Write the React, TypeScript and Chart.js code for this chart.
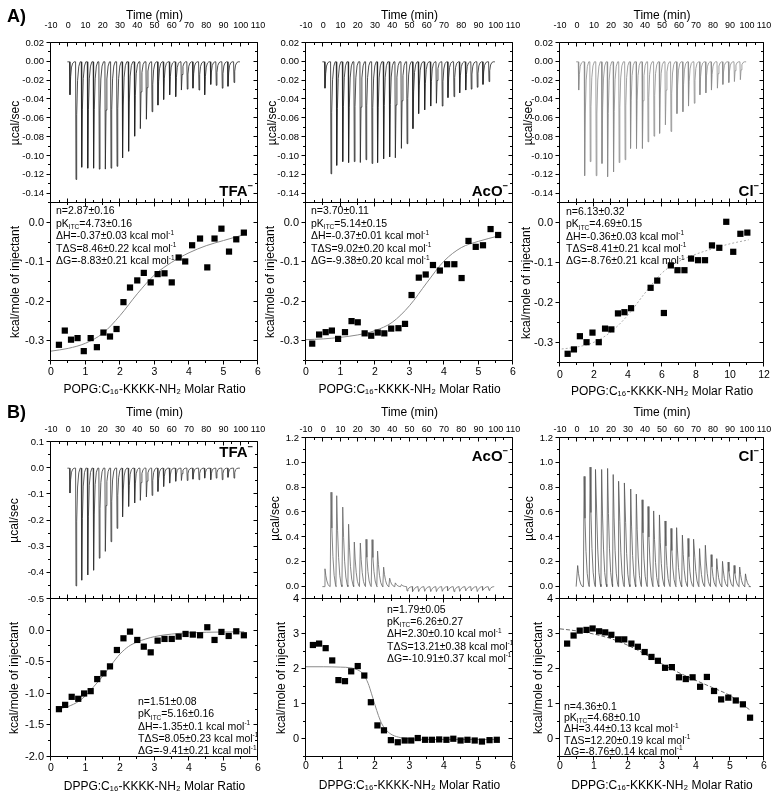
import React, { useEffect, useRef } from "react";
import { Chart, registerables } from "chart.js";

Chart.register(...registerables);

const FONT = "'Liberation Sans', Arial, Helvetica, sans-serif";
Chart.defaults.font.family = FONT;
Chart.defaults.color = "#000";

// ---------------- data ----------------
const TIME_TICKS = [-10, 0, 10, 20, 30, 40, 50, 60, 70, 80, 90, 100, 110];
const RATIO_TICKS_6 = [0, 1, 2, 3, 4, 5, 6];
const RATIO_TICKS_12 = [0, 2, 4, 6, 8, 10, 12];
const RAW_TICKS_A = [0.02, 0, -0.02, -0.04, -0.06, -0.08, -0.1, -0.12, -0.14];
const ISO_TICKS_A = [0, -0.1, -0.2, -0.3];
const RAW_TICKS_B_TFA = [0.1, 0, -0.1, -0.2, -0.3, -0.4, -0.5];
const ISO_TICKS_B_TFA = [0, -0.5, -1, -1.5, -2];
const RAW_TICKS_B = [1.2, 1.0, 0.8, 0.6, 0.4, 0.2, 0];
const ISO_TICKS_B = [4, 3, 2, 1, 0];

// injection times (min)
const INJECTION_MIN = [1.0, 4.5, 7.8, 11.3, 14.7, 18.0, 21.5, 24.8, 28.3, 31.5, 35.0, 38.5, 41.8, 45.3, 48.6, 52.0, 55.3, 58.8, 62.3, 65.6, 69.0, 72.3, 75.8, 79.1, 82.6, 85.8, 89.3, 92.6, 96.1];
const INJECTION_MIN_B_CL = [0.4, 4.2, 7.7, 11.1, 14.5, 18.0, 21.3, 24.7, 28.1, 31.6, 34.9, 38.3, 41.8, 45.1, 48.5, 51.8, 55.3, 58.6, 62.0, 65.3, 68.8, 72.1, 75.5, 78.9, 82.2, 85.6, 88.9, 92.4, 95.7, 99.1];

// peak heat-rate (µcal/sec) of each injection
const PEAK_A_TFA = [-0.035, -0.125, -0.112, -0.113, -0.113, -0.114, -0.114, -0.113, -0.111, -0.102, -0.095, -0.079, -0.071, -0.061, -0.053, -0.046, -0.040, -0.035, -0.037, -0.030, -0.029, -0.028, -0.030, -0.035, -0.024, -0.025, -0.028, -0.026, -0.022];
const PEAK_A_ACO = [-0.028, -0.119, -0.110, -0.106, -0.107, -0.106, -0.107, -0.104, -0.108, -0.107, -0.103, -0.101, -0.102, -0.092, -0.087, -0.071, -0.055, -0.051, -0.047, -0.044, -0.047, -0.038, -0.037, -0.033, -0.030, -0.029, -0.027, -0.024, -0.021];
const PEAK_A_CL = [-0.030, -0.121, -0.106, -0.121, -0.108, -0.122, -0.117, -0.107, -0.104, -0.092, -0.092, -0.092, -0.085, -0.079, -0.076, -0.067, -0.074, -0.055, -0.053, -0.047, -0.044, -0.035, -0.033, -0.030, -0.028, -0.024, -0.022, -0.021, -0.019];
const PEAK_B_TFA = [-0.095, -0.450, -0.428, -0.408, -0.390, -0.344, -0.318, -0.281, -0.230, -0.186, -0.146, -0.133, -0.123, -0.110, -0.104, -0.089, -0.070, -0.057, -0.050, -0.047, -0.047, -0.042, -0.044, -0.038, -0.044, -0.038, -0.044, -0.035, -0.038];
const PEAK_B_ACO = [0.144, 0.762, 0.734, 0.642, 0.504, 0.360, 0.352, 0.382, 0.379, 0.287, 0.157, 0.068, 0.030, 0.016, -0.035, -0.040, -0.040, -0.038, -0.040, -0.040, -0.038, -0.035, -0.040, -0.038, -0.035, -0.035, -0.040, -0.030, -0.030];
const PEAK_B_CL = [0.17, 0.89, 0.965, 0.946, 0.946, 0.954, 0.905, 0.851, 0.837, 0.788, 0.747, 0.701, 0.647, 0.611, 0.579, 0.53, 0.47, 0.476, 0.416, 0.389, 0.383, 0.307, 0.334, 0.258, 0.226, 0.204, 0.198, 0.171, 0.158, 0.103];

// integrated heats (kcal/mole of injectant) vs molar ratio
const RATIO_A_TFA = [0.23, 0.40, 0.58, 0.77, 0.95, 1.15, 1.33, 1.52, 1.71, 1.90, 2.10, 2.29, 2.50, 2.69, 2.89, 3.09, 3.29, 3.50, 3.70, 3.89, 4.09, 4.32, 4.53, 4.74, 4.94, 5.16, 5.37, 5.59];
const HEAT_A_TFA = [-0.309, -0.273, -0.296, -0.292, -0.325, -0.292, -0.315, -0.278, -0.288, -0.269, -0.201, -0.164, -0.146, -0.127, -0.151, -0.130, -0.128, -0.151, -0.088, -0.098, -0.057, -0.040, -0.113, -0.040, -0.015, -0.073, -0.042, -0.025];
const RATIO_A_ACO = [0.18, 0.38, 0.57, 0.75, 0.93, 1.13, 1.32, 1.50, 1.70, 1.89, 2.08, 2.27, 2.47, 2.68, 2.87, 3.06, 3.27, 3.47, 3.68, 3.88, 4.09, 4.30, 4.51, 4.71, 4.92, 5.13, 5.35, 5.57];
const HEAT_A_ACO = [-0.306, -0.283, -0.277, -0.273, -0.294, -0.277, -0.249, -0.252, -0.280, -0.286, -0.278, -0.280, -0.268, -0.267, -0.256, -0.183, -0.139, -0.131, -0.107, -0.121, -0.105, -0.105, -0.140, -0.046, -0.061, -0.057, -0.016, -0.031];
const RATIO_A_CL = [0.45, 0.82, 1.17, 1.56, 1.91, 2.28, 2.65, 3.02, 3.41, 3.79, 4.18, 5.33, 5.72, 6.11, 6.52, 6.91, 7.32, 7.71, 8.12, 8.53, 8.94, 9.37, 9.78, 10.19, 10.61, 11.02];
const HEAT_A_CL = [-0.327, -0.316, -0.283, -0.298, -0.274, -0.298, -0.264, -0.266, -0.226, -0.223, -0.213, -0.162, -0.144, -0.225, -0.106, -0.118, -0.118, -0.089, -0.093, -0.093, -0.056, -0.062, 0.003, -0.072, -0.027, -0.024];
const RATIO_B_TFA = [0.23, 0.41, 0.60, 0.79, 0.96, 1.15, 1.34, 1.52, 1.71, 1.91, 2.10, 2.29, 2.50, 2.69, 2.89, 3.09, 3.29, 3.50, 3.70, 3.90, 4.11, 4.32, 4.53, 4.74, 4.94, 5.15, 5.37, 5.59];
const HEAT_B_TFA = [-1.243, -1.175, -1.048, -1.079, -0.995, -0.958, -0.767, -0.677, -0.566, -0.307, -0.122, -0.016, -0.148, -0.254, -0.344, -0.159, -0.132, -0.132, -0.095, -0.053, -0.063, -0.074, 0.053, -0.148, -0.021, -0.085, -0.011, -0.074];
const RATIO_B_ACO = [0.20, 0.38, 0.57, 0.76, 0.94, 1.13, 1.31, 1.50, 1.69, 1.88, 2.07, 2.26, 2.46, 2.66, 2.86, 3.05, 3.24, 3.45, 3.65, 3.86, 4.07, 4.27, 4.48, 4.68, 4.89, 5.10, 5.32, 5.53];
const HEAT_B_ACO = [2.69, 2.73, 2.60, 2.25, 1.69, 1.66, 1.94, 2.09, 1.82, 1.06, 0.40, 0.26, -0.02, -0.08, -0.03, -0.03, 0.04, -0.01, -0.01, 0.00, -0.01, 0.02, -0.03, -0.01, -0.03, -0.06, -0.02, -0.01];
const RATIO_B_CL = [0.21, 0.40, 0.58, 0.78, 0.96, 1.15, 1.33, 1.51, 1.71, 1.89, 2.10, 2.29, 2.49, 2.69, 2.88, 3.09, 3.29, 3.50, 3.70, 3.90, 4.12, 4.32, 4.53, 4.74, 4.95, 5.17, 5.38, 5.59];
const HEAT_B_CL = [2.73, 2.96, 3.10, 3.12, 3.16, 3.08, 3.05, 2.98, 2.85, 2.85, 2.73, 2.64, 2.49, 2.35, 2.24, 2.04, 2.06, 1.77, 1.72, 1.77, 1.50, 1.78, 1.38, 1.14, 1.19, 1.11, 1.00, 0.62];

// fitted binding curves
const FIT_X_A_TFA = [0, 0.5, 1, 1.5, 2, 2.5, 3, 3.5, 4, 4.5, 5, 5.6];
const FIT_Y_A_TFA = [-0.325, -0.318, -0.305, -0.28, -0.235, -0.18, -0.132, -0.1, -0.076, -0.058, -0.045, -0.03];
const FIT_X_A_ACO = [0, 0.5, 1, 1.5, 2, 2.5, 3, 3.5, 4, 4.5, 5, 5.6];
const FIT_Y_A_ACO = [-0.296, -0.294, -0.29, -0.284, -0.273, -0.252, -0.21, -0.152, -0.097, -0.063, -0.047, -0.033];
const FIT_X_A_CL = [0.1, 1, 2, 3, 4, 5, 6, 7, 8, 9, 10, 11.1];
const FIT_Y_A_CL = [-0.315, -0.31, -0.298, -0.272, -0.23, -0.175, -0.125, -0.096, -0.078, -0.064, -0.052, -0.042];
const FIT_X_B_TFA = [0.2, 0.5, 0.8, 1.0, 1.25, 1.5, 1.75, 2.0, 2.25, 2.5, 3, 3.5, 4, 5, 5.6];
const FIT_Y_B_TFA = [-1.24, -1.2, -1.12, -1.03, -0.88, -0.72, -0.54, -0.37, -0.25, -0.18, -0.095, -0.055, -0.035, -0.022, -0.018];
const FIT_X_B_ACO = [0, 0.5, 1, 1.3, 1.5, 1.65, 1.8, 1.9, 2.0, 2.1, 2.2, 2.35, 2.5, 2.75, 3, 3.5, 5.6];
const FIT_Y_B_ACO = [2.07, 2.07, 2.06, 2.04, 1.98, 1.87, 1.6, 1.3, 0.98, 0.68, 0.44, 0.24, 0.13, 0.05, 0.02, 0.0, 0.0];
const FIT_X_B_CL = [0, 0.5, 1, 1.5, 2, 2.5, 3, 3.5, 4, 4.5, 5, 5.6];
const FIT_Y_B_CL = [3.15, 3.09, 3.0, 2.87, 2.68, 2.43, 2.15, 1.9, 1.68, 1.47, 1.25, 0.83];

// fit results text
const NOTE_A_TFA = ["n=2.87±0.16", "pK_{ITC}=4.73±0.16", "ΔH=-0.37±0.03 kcal mol^{-1}", "TΔS=8.46±0.22 kcal mol^{-1}", "ΔG=-8.83±0.21 kcal mol^{-1}"];
const NOTE_A_ACO = ["n=3.70±0.11", "pK_{ITC}=5.14±0.15", "ΔH=-0.37±0.01 kcal mol^{-1}", "TΔS=9.02±0.20 kcal mol^{-1}", "ΔG=-9.38±0.20 kcal mol^{-1}"];
const NOTE_A_CL = ["n=6.13±0.32", "pK_{ITC}=4.69±0.15", "ΔH=-0.36±0.03 kcal mol^{-1}", "TΔS=8.41±0.21 kcal mol^{-1}", "ΔG=-8.76±0.21 kcal mol^{-1}"];
const NOTE_B_TFA = ["n=1.51±0.08", "pK_{ITC}=5.16±0.16", "ΔH=-1.35±0.1 kcal mol^{-1}", "TΔS=8.05±0.23 kcal mol^{-1}", "ΔG=-9.41±0.21 kcal mol^{-1}"];
const NOTE_B_ACO = ["n=1.79±0.05", "pK_{ITC}=6.26±0.27", "ΔH=2.30±0.10 kcal mol^{-1}", "TΔS=13.21±0.38 kcal mol^{-1}", "ΔG=-10.91±0.37 kcal mol^{-1}"];
const NOTE_B_CL = ["n=4.36±0.1", "pK_{ITC}=4.68±0.10", "ΔH=3.44±0.13 kcal mol^{-1}", "TΔS=12.20±0.19 kcal mol^{-1}", "ΔG=-8.76±0.14 kcal mol^{-1}"];

const TITLE_TIME = "Time (min)";
const TITLE_RAW_Y = "µcal/sec";
const TITLE_ISO_Y = "kcal/mole of injectant";
const TITLE_POPG = "POPG:C₁₆-KKKK-NH₂ Molar Ratio";
const TITLE_DPPG = "DPPG:C₁₆-KKKK-NH₂ Molar Ratio";

// ---------------- helpers ----------------
// spike profile (fraction of peak vs minutes after the tip) – drawing style only
const SHAPE_SHARP = [[-0.25, 0], [0, 1], [0.4, 0.45], [0.9, 0.16], [1.6, 0.04], [2.4, 0]];
const SHAPE_BROAD = [[-0.45, 0], [0, 1], [0.5, 0.62], [1.1, 0.32], [1.8, 0.12], [2.6, 0.02], [3.0, 0]];

function spikeTrace(times: number[], peaks: number[], end: number, shape: number[][]) {
  const pts: { x: number; y: number }[] = [{ x: -0.5, y: 0 }];
  times.forEach((t, i) => {
    const p = peaks[i];
    shape.forEach(([dt, f]) => pts.push({ x: t + dt, y: p * f }));
  });
  pts.push({ x: end, y: 0 });
  return pts;
}
const zip = (xs: number[], ys: number[]) => xs.map((x, i) => ({ x, y: ys[i] }));

function rawSet(times: number[], peaks: number[], color: string, end = 99.5, shape = SHAPE_SHARP) {
  return {
    data: spikeTrace(times, peaks, end, shape),
    showLine: true,
    borderColor: color,
    borderWidth: 0.8,
    pointRadius: 0,
    tension: 0,
  };
}
function isoSets(xs: number[], ys: number[], fx: number[], fy: number[], fitColor: string, dash: number[] = []) {
  return [
    {
      data: zip(xs, ys),
      showLine: false,
      pointStyle: "rect",
      pointRadius: 4.4,
      backgroundColor: "#000",
      borderWidth: 0,
    },
    {
      data: zip(fx, fy),
      showLine: true,
      borderColor: fitColor,
      borderWidth: 1,
      borderDash: dash,
      pointRadius: 0,
      cubicInterpolationMode: "monotone",
    },
  ];
}

function drawRich(ctx: CanvasRenderingContext2D, str: string, x: number, y: number, size: number, bold: boolean, measureOnly = false) {
  const re = /([_^])\{([^}]*)\}/g;
  const parts: { t: string; k: string }[] = [];
  let last = 0;
  let m: RegExpExecArray | null;
  while ((m = re.exec(str))) {
    if (m.index > last) parts.push({ t: str.slice(last, m.index), k: "n" });
    parts.push({ t: m[2], k: m[1] === "_" ? "sub" : "sup" });
    last = re.lastIndex;
  }
  if (last < str.length) parts.push({ t: str.slice(last), k: "n" });
  let cx = x;
  for (const p of parts) {
    const s = p.k === "n" ? size : size * 0.62;
    const dy = p.k === "sub" ? size * 0.32 : p.k === "sup" ? -size * 0.36 : 0;
    ctx.font = `${bold ? "bold " : ""}${s}px ${FONT}`;
    if (!measureOnly) ctx.fillText(p.t, cx, y + dy);
    cx += ctx.measureText(p.t).width;
  }
  return cx - x;
}

function minorsOf(majors: number[], min: number, max: number) {
  const half = Math.abs(majors[1] - majors[0]) / 2;
  const eps = half * 1e-3;
  const out: number[] = [];
  majors.forEach((m) => {
    [m - half, m + half].forEach((v) => {
      if (v < min - eps || v > max + eps) return;
      if (majors.some((q) => Math.abs(q - v) < eps)) return;
      if (out.some((q) => Math.abs(q - v) < eps)) return;
      out.push(v);
    });
  });
  return out;
}

// ---------------- layout ----------------
const ML = 48;
const MR = 26;

type Spec = any;

function geom(s: Spec) {
  const mt = s.kind === "raw" ? s.t - (s.xTitleY - 12) : 20;
  const mb = s.kind === "raw" ? 20 : 40;
  return { mt, mb, x: s.l - ML, y: s.t - mt, w: s.r - s.l + ML + MR, h: s.b - s.t + mt + mb };
}

function buildChart(canvas: HTMLCanvasElement, s: Spec) {
  const g = geom(s);
  const xLH = s.xFont * 1.2;
  const tLH = 12 * 1.2;
  const xTickPad = s.kind === "raw" ? s.t - s.xLabelY - xLH / 2 : s.xLabelY - s.b - xLH / 2;
  const xTitlePad =
    s.kind === "raw"
      ? { top: s.xTitleY - (s.t - g.mt) - tLH / 2, bottom: 0 }
      : { top: 0, bottom: s.b + g.mb - s.xTitleY - tLH / 2 };
  const yTitlePad = { top: s.yTitleX - (s.l - ML) - tLH / 2, bottom: 0 };

  const deco = {
    id: "deco",
    afterDraw(chart: any) {
      const ctx: CanvasRenderingContext2D = chart.ctx;
      const xs = chart.scales.x;
      const ys = chart.scales.y;
      const ca = chart.chartArea;
      const L = Math.round(ca.left) - 0.5;
      const R = Math.round(ca.right) - 0.5;
      const T = Math.round(ca.top) - 0.5;
      const B = Math.round(ca.bottom) - 0.5;
      ctx.save();
      ctx.strokeStyle = "#000";
      ctx.lineWidth = 1;
      ctx.beginPath();
      ctx.rect(L, T, R - L, B - T);
      const MAJ = 4;
      const MIN = 2.5;
      const xMin = minorsOf(s.xTicks, s.xMin, s.xMax);
      const yMin = minorsOf(s.yTicks, s.yMin, s.yMax);
      const xAll = [...s.xTicks.map((v: number) => [v, MAJ]), ...xMin.map((v) => [v, MIN])];
      const yAll = [...s.yTicks.map((v: number) => [v, MAJ]), ...yMin.map((v) => [v, MIN])];
      xAll.forEach(([v, len]) => {
        const px = Math.round(xs.getPixelForValue(v)) - 0.5;
        ctx.moveTo(px, T);
        ctx.lineTo(px, T + len);
        ctx.moveTo(px, B);
        ctx.lineTo(px, s.kind === "iso" ? B + len : B - len);
      });
      yAll.forEach(([v, len]) => {
        const py = Math.round(ys.getPixelForValue(v)) - 0.5;
        ctx.moveTo(L, py);
        ctx.lineTo(L - len, py);
        ctx.moveTo(R, py);
        ctx.lineTo(R - len, py);
      });
      ctx.stroke();

      const ox = s.l - ML;
      const oy = s.t - g.mt;
      ctx.fillStyle = "#000";
      ctx.textBaseline = "middle";
      ctx.textAlign = "left";
      if (s.notes) {
        s.notes.lines.forEach((line: string, i: number) => {
          drawRich(ctx, line, s.notes.x - ox, s.notes.y + i * s.notes.dy - oy, 10.5, false);
        });
      }
      if (s.tag) {
        const w = drawRich(ctx, s.tag.text, 0, 0, 15, true, true);
        drawRich(ctx, s.tag.text, s.r - 5 - w - ox, s.tag.y - oy, 15, true);
      }
      if (s.letter) {
        drawRich(ctx, s.letter.text, s.letter.x - ox, s.letter.y - oy, 18, true);
      }
      ctx.restore();
    },
  };

  return new Chart(canvas, {
    type: "scatter",
    data: { datasets: s.datasets },
    options: {
      animation: false,
      responsive: false,
      devicePixelRatio: 1,
      events: [],
      layout: {
        padding:
          s.kind === "raw"
            ? { left: 0, top: 0, right: MR, bottom: g.mb }
            : { left: 0, top: g.mt, right: MR, bottom: 0 },
      },
      plugins: { legend: { display: false }, tooltip: { enabled: false } },
      scales: {
        x: {
          type: "linear",
          position: s.kind === "raw" ? "top" : "bottom",
          min: s.xMin,
          max: s.xMax,
          grid: { display: false, drawTicks: false, tickLength: 0 },
          border: { display: false },
          afterBuildTicks: (sc: any) => {
            sc.ticks = s.xTicks.map((v: number) => ({ value: v }));
          },
          afterFit: (sc: any) => {
            sc.height = s.kind === "raw" ? g.mt : g.mb;
          },
          ticks: {
            autoSkip: false,
            maxRotation: 0,
            minRotation: 0,
            padding: xTickPad,
            color: "#000",
            font: { family: FONT, size: s.xFont },
            callback: (v: any) => Number(v).toFixed(s.xDec),
          },
          title: {
            display: true,
            text: s.xTitle,
            color: "#000",
            font: { family: FONT, size: 12 },
            padding: xTitlePad,
          },
        },
        y: {
          type: "linear",
          position: "left",
          min: s.yMin,
          max: s.yMax,
          grid: { display: false, drawTicks: false, tickLength: 0 },
          border: { display: false },
          afterBuildTicks: (sc: any) => {
            sc.ticks = s.yTicks.map((v: number) => ({ value: v }));
          },
          afterFit: (sc: any) => {
            sc.width = ML;
          },
          ticks: {
            autoSkip: false,
            padding: 7,
            color: "#000",
            font: { family: FONT, size: s.yFont },
            callback: (v: any) => Number(v).toFixed(s.yDec),
          },
          title: {
            display: true,
            text: s.yTitle,
            color: "#000",
            font: { family: FONT, size: 12 },
            padding: yTitlePad,
          },
        },
      },
    },
    plugins: [deco],
  } as any);
}

function Panel({ spec }: { spec: Spec }) {
  const ref = useRef<HTMLCanvasElement | null>(null);
  const g = geom(spec);
  useEffect(() => {
    if (!ref.current) return;
    const chart = buildChart(ref.current, spec);
    return () => chart.destroy();
  }, []);
  return (
    <canvas
      ref={ref}
      width={g.w}
      height={g.h}
      style={{ position: "absolute", left: g.x, top: g.y, width: g.w, height: g.h }}
    />
  );
}

const COLS = [
  { l: 51, r: 258 },
  { l: 306, r: 513 },
  { l: 560, r: 764 },
];

const rawA = (c: number, extra: any) => ({
  kind: "raw",
  l: COLS[c].l,
  r: COLS[c].r,
  t: 43,
  b: 203,
  xMin: -10,
  xMax: 110,
  xTicks: TIME_TICKS,
  xDec: 0,
  xFont: 9,
  yMin: -0.15,
  yMax: 0.02,
  yTicks: RAW_TICKS_A,
  yDec: 2,
  yFont: 9.5,
  xTitle: TITLE_TIME,
  yTitle: TITLE_RAW_Y,
  xLabelY: 26,
  xTitleY: 16,
  ...extra,
});
const isoA = (c: number, extra: any) => ({
  kind: "iso",
  l: COLS[c].l,
  r: COLS[c].r,
  t: 203,
  b: 361,
  xMin: 0,
  xMax: 6,
  xTicks: RATIO_TICKS_6,
  xDec: 0,
  xFont: 10.5,
  yMin: -0.35,
  yMax: 0.05,
  yTicks: ISO_TICKS_A,
  yDec: 1,
  yFont: 11,
  xTitle: TITLE_POPG,
  yTitle: TITLE_ISO_Y,
  xLabelY: 372,
  xTitleY: 390,
  ...extra,
});
const rawB = (c: number, extra: any) => ({
  kind: "raw",
  l: COLS[c].l,
  r: COLS[c].r,
  t: 438,
  b: 599,
  xMin: -10,
  xMax: 110,
  xTicks: TIME_TICKS,
  xDec: 0,
  xFont: 9,
  yMin: -0.1,
  yMax: 1.2,
  yTicks: RAW_TICKS_B,
  yDec: 1,
  yFont: 9.5,
  xTitle: TITLE_TIME,
  yTitle: TITLE_RAW_Y,
  xLabelY: 430,
  xTitleY: 413,
  ...extra,
});
const isoB = (c: number, extra: any) => ({
  kind: "iso",
  l: COLS[c].l,
  r: COLS[c].r,
  t: 599,
  b: 757,
  xMin: 0,
  xMax: 6,
  xTicks: RATIO_TICKS_6,
  xDec: 0,
  xFont: 10.5,
  yMin: -0.5,
  yMax: 4,
  yTicks: ISO_TICKS_B,
  yDec: 0,
  yFont: 11,
  xTitle: TITLE_DPPG,
  yTitle: TITLE_ISO_Y,
  xLabelY: 766,
  xTitleY: 786,
  ...extra,
});

const SPECS = [
  rawA(0, {
    yTitleX: 15.7,
    datasets: [rawSet(INJECTION_MIN, PEAK_A_TFA, "#222")],
    tag: { text: "TFA^{−}", y: 192 },
    letter: { text: "A)", x: 7, y: 17 },
  }),
  rawA(1, {
    yTitleX: 273,
    datasets: [rawSet(INJECTION_MIN, PEAK_A_ACO, "#222")],
    tag: { text: "AcO^{−}", y: 192 },
  }),
  rawA(2, {
    yTitleX: 529,
    datasets: [rawSet(INJECTION_MIN, PEAK_A_CL, "#8a8a8a")],
    tag: { text: "Cl^{−}", y: 192 },
  }),
  isoA(0, {
    yTitleX: 16,
    datasets: isoSets(RATIO_A_TFA, HEAT_A_TFA, FIT_X_A_TFA, FIT_Y_A_TFA, "#8a8a8a"),
    notes: { lines: NOTE_A_TFA, x: 56, y: 211.5, dy: 12.5 },
  }),
  isoA(1, {
    yTitleX: 271,
    datasets: isoSets(RATIO_A_ACO, HEAT_A_ACO, FIT_X_A_ACO, FIT_Y_A_ACO, "#8a8a8a"),
    notes: { lines: NOTE_A_ACO, x: 311, y: 211.5, dy: 12.5 },
  }),
  isoA(2, {
    b: 363,
    xMax: 12,
    xTicks: RATIO_TICKS_12,
    xLabelY: 375,
    xTitleY: 392,
    yTitleX: 527,
    datasets: isoSets(RATIO_A_CL, HEAT_A_CL, FIT_X_A_CL, FIT_Y_A_CL, "#aaaaaa", [2, 2]),
    notes: { lines: NOTE_A_CL, x: 566, y: 212, dy: 12.4 },
  }),
  rawB(0, {
    t: 442,
    yMin: -0.5,
    yMax: 0.1,
    yTicks: RAW_TICKS_B_TFA,
    yTitleX: 15,
    datasets: [rawSet(INJECTION_MIN, PEAK_B_TFA, "#333")],
    tag: { text: "TFA^{−}", y: 453 },
    letter: { text: "B)", x: 7, y: 413 },
  }),
  rawB(1, {
    yTitleX: 276,
    datasets: [rawSet(INJECTION_MIN, PEAK_B_ACO, "#666", 99.5, SHAPE_BROAD)],
    tag: { text: "AcO^{−}", y: 457 },
  }),
  rawB(2, {
    yTitleX: 530,
    datasets: [rawSet(INJECTION_MIN_B_CL, PEAK_B_CL, "#555", 101, SHAPE_BROAD)],
    tag: { text: "Cl^{−}", y: 457 },
  }),
  isoB(0, {
    yMin: -2,
    yMax: 0.5,
    yTicks: ISO_TICKS_B_TFA,
    yDec: 1,
    xLabelY: 768,
    xTitleY: 787,
    yTitleX: 15,
    datasets: isoSets(RATIO_B_TFA, HEAT_B_TFA, FIT_X_B_TFA, FIT_Y_B_TFA, "#8a8a8a"),
    notes: { lines: NOTE_B_TFA, x: 138, y: 702, dy: 12.4 },
  }),
  isoB(1, {
    yTitleX: 282,
    datasets: isoSets(RATIO_B_ACO, HEAT_B_ACO, FIT_X_B_ACO, FIT_Y_B_ACO, "#8a8a8a"),
    notes: { lines: NOTE_B_ACO, x: 387, y: 610, dy: 12.3 },
  }),
  isoB(2, {
    yTitleX: 539,
    datasets: isoSets(RATIO_B_CL, HEAT_B_CL, FIT_X_B_CL, FIT_Y_B_CL, "#666666", [4, 2]),
    notes: { lines: NOTE_B_CL, x: 564, y: 707, dy: 11.3 },
  }),
];

export default function App() {
  return (
    <div
      style={{
        position: "absolute",
        left: 0,
        top: 0,
        width: 778,
        height: 799,
        overflow: "hidden",
        background: "#fff",
      }}
    >
      {SPECS.map((s, i) => (
        <Panel key={i} spec={s} />
      ))}
    </div>
  );
}
